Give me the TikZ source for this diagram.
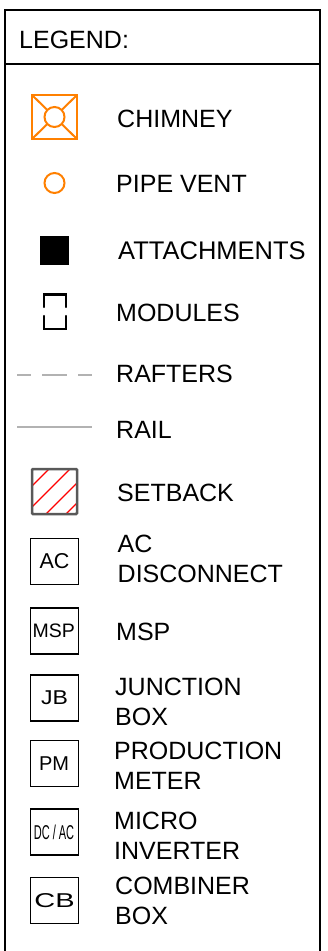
\documentclass[tikz,border=0pt]{standalone}
\usepackage{fontspec}
\setmainfont{Liberation Sans}
\tikzset{
  x=1pt,y=-1pt,
  lab/.style={anchor=west,inner sep=0pt,font=\fontsize{25}{30}\selectfont,align=left},
  symbox/.style={draw=black,line width=1.4pt,minimum width=48pt,minimum height=46pt,inner sep=0pt},
  orange/.style={draw={rgb,255:red,255;green,128;blue,0},line width=2pt},
  graybar/.style={line width=2pt,draw=black!30},
}
\begin{document}
\begin{tikzpicture}
\useasboundingbox (0,0) rectangle (327,951);
\fill[white] (0,0) rectangle (327,951);
\draw[line width=1.6pt] (5,952) -- (5,10) -- (320,10) -- (320,952);
\draw[line width=1.6pt] (5,64) -- (320,64);
\node[lab] (title) at (19,39.5) {LEGEND:};
% chimney
\draw[orange] (32,95) rectangle (77,139);
\draw[orange] (32,95) -- (77,139) (77,95) -- (32,139);
\node[circle,fill=white,orange,minimum size=20pt,inner sep=0pt] (chim) at (54.5,117) {};
\node[lab] (l1) at (117,118.5) {CHIMNEY};
\node[circle,orange,minimum size=20pt,inner sep=0pt] (pipe) at (54.5,183) {};
\node[lab] (l2) at (116,183.5) {PIPE VENT};
\node[fill=black,minimum size=29pt,inner sep=0pt] (att) at (54.5,250) {};
\node[lab,font=\fontsize{25.5}{30}\selectfont] (l3) at (118,250.5) {ATTACHMENTS};
\draw[line width=2.2pt,line cap=round] (44,307) -- (44,294.5) -- (66,294.5) -- (66,307)
  (44,316) -- (44,329) -- (66,329) -- (66,316);
\node[lab] (l4) at (116,312.5) {MODULES};
\draw[graybar] (17,374.5) -- (31,374.5) (42,374.5) -- (67,374.5) (78,374.5) -- (92,374.5);
\node[lab] (l5) at (116,373.5) {RAFTERS};
\draw[graybar] (17,426.5) -- (92,426.5);
\node[lab] (l6) at (116,429.5) {RAIL};
% setback
\begin{scope}
\clip (32,469) rectangle (77,514);
\draw[red,line width=1.3pt] (32,486) -- (49,469) (32,507) -- (70,469) (46,514) -- (77,483) (66,514) -- (77,503);
\end{scope}
\draw[line width=2.5pt,draw=black!65,rounded corners=1pt] (32,469) rectangle (77,514);
\node[lab] (l7) at (117,492.5) {SETBACK};
\node[symbox,font=\fontsize{21.5}{24}\selectfont] (ac) at (54.5,561.5) {AC};
\node[lab] (l8) at (117.5,558.5) {AC\\DISCONNECT};
\node[symbox] (msp) at (54.5,631) {\hspace{-1.5pt}\fontsize{19.5}{24}\selectfont MSP};
\node[lab] (l9) at (116,631.5) {MSP};
\node[symbox] (jb) at (54.5,698) {\scalebox{1.15}[1]{\fontsize{20}{24}\selectfont JB}};
\node[lab] (l10) at (115,702) {JUNCTION\\BOX};
\node[symbox] (pm) at (54.5,763.5) {\hspace{-1pt}\fontsize{20}{24}\selectfont PM};
\node[lab] (l11) at (114,765.5) {PRODUCTION\\METER};
\node[symbox] (dc) at (54.5,832) {\hspace{-1pt}\scalebox{0.55}[1]{\fontsize{20}{24}\selectfont DC / AC}};
\node[lab] (l12) at (114,835.5) {MICRO\\INVERTER};
\node[symbox] (cb) at (54.5,900.5) {\scalebox{1.45}[1]{\fontsize{20}{24}\selectfont CB}};
\node[lab] (l13) at (115,900.5) {COMBINER\\BOX};
\end{tikzpicture}
\end{document}
